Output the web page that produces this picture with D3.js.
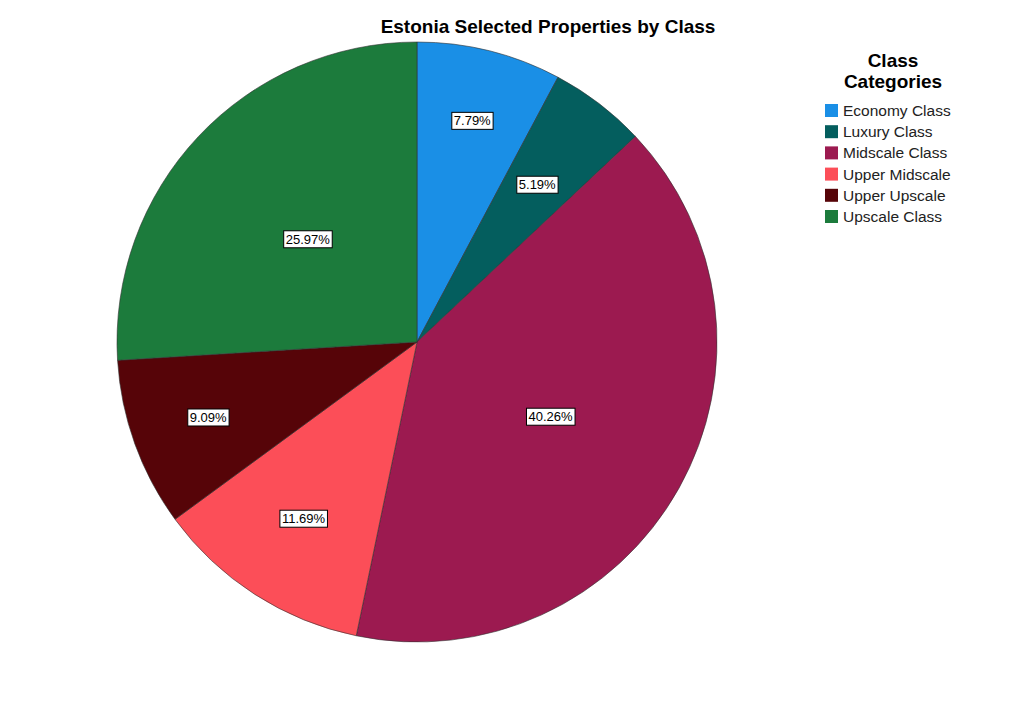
<!DOCTYPE html>
<html><head><meta charset="utf-8">
<script src="https://cdn.jsdelivr.net/npm/d3@7"></script>
<style>body{margin:0;background:#fff;font-family:Arial,"Liberation Sans",sans-serif;}</style>
</head><body><svg id="chart" width="1024" height="705"></svg>
<script>
const categories = ["Economy Class","Luxury Class","Midscale Class","Upper Midscale","Upper Upscale","Upscale Class"];
const shares = [7.79, 5.19, 40.26, 11.69, 9.09, 25.97];
const colors = ["#1a8fe6","#045e5e","#9c1a50","#fc4e58","#560408","#1c7b3c"];
// where along the radius each label sits
const labelFrac = [0.76, 0.66, 0.51, 0.70, 0.74, 0.50];

const svg = d3.select("#chart");
const cx = 417, cy = 342, R = 300;

svg.append("text").attr("x", 548).attr("y", 33).attr("text-anchor","middle")
  .attr("font-size", 19).attr("font-weight","bold").text("Estonia Selected Properties by Class");

const pie = d3.pie().sort(null).value(d => d)(shares);
const arc = d3.arc().innerRadius(0).outerRadius(R);
const g = svg.append("g").attr("transform", `translate(${cx},${cy})`);

g.selectAll("path").data(pie).join("path")
  .attr("d", arc).attr("fill", (d,i) => colors[i])
  .attr("stroke", "#333").attr("stroke-width", 0.6);

pie.forEach((d, i) => {
  const a = (d.startAngle + d.endAngle) / 2;
  const r = R * labelFrac[i];
  const x = Math.sin(a) * r, y = -Math.cos(a) * r;
  const lg = g.append("g").attr("transform", `translate(${x},${y})`);
  const t = lg.append("text").attr("text-anchor","middle").attr("dy","0.35em")
    .attr("font-size", 13).text(shares[i].toFixed(2) + "%");
  const bb = t.node().getBBox();
  lg.insert("rect","text").attr("x", bb.x - 2).attr("y", bb.y - 1)
    .attr("width", bb.width + 4).attr("height", bb.height + 2)
    .attr("fill","#fff").attr("stroke","#000").attr("stroke-width",1);
});

const lx = 825;
svg.append("text").attr("x", 893).attr("y", 67).attr("text-anchor","middle")
  .attr("font-size", 19).attr("font-weight","bold").text("Class");
svg.append("text").attr("x", 893).attr("y", 88).attr("text-anchor","middle")
  .attr("font-size", 19).attr("font-weight","bold").text("Categories");
const leg = svg.selectAll(".leg").data(categories).join("g")
  .attr("transform", (d,i) => `translate(${lx},${104 + i*21.2})`);
leg.append("rect").attr("width", 13).attr("height", 13).attr("fill", (d,i) => colors[i]);
leg.append("text").attr("x", 18).attr("y", 12).attr("font-size", 15.5).attr("fill","#222").text(d => d);
</script></body></html>
